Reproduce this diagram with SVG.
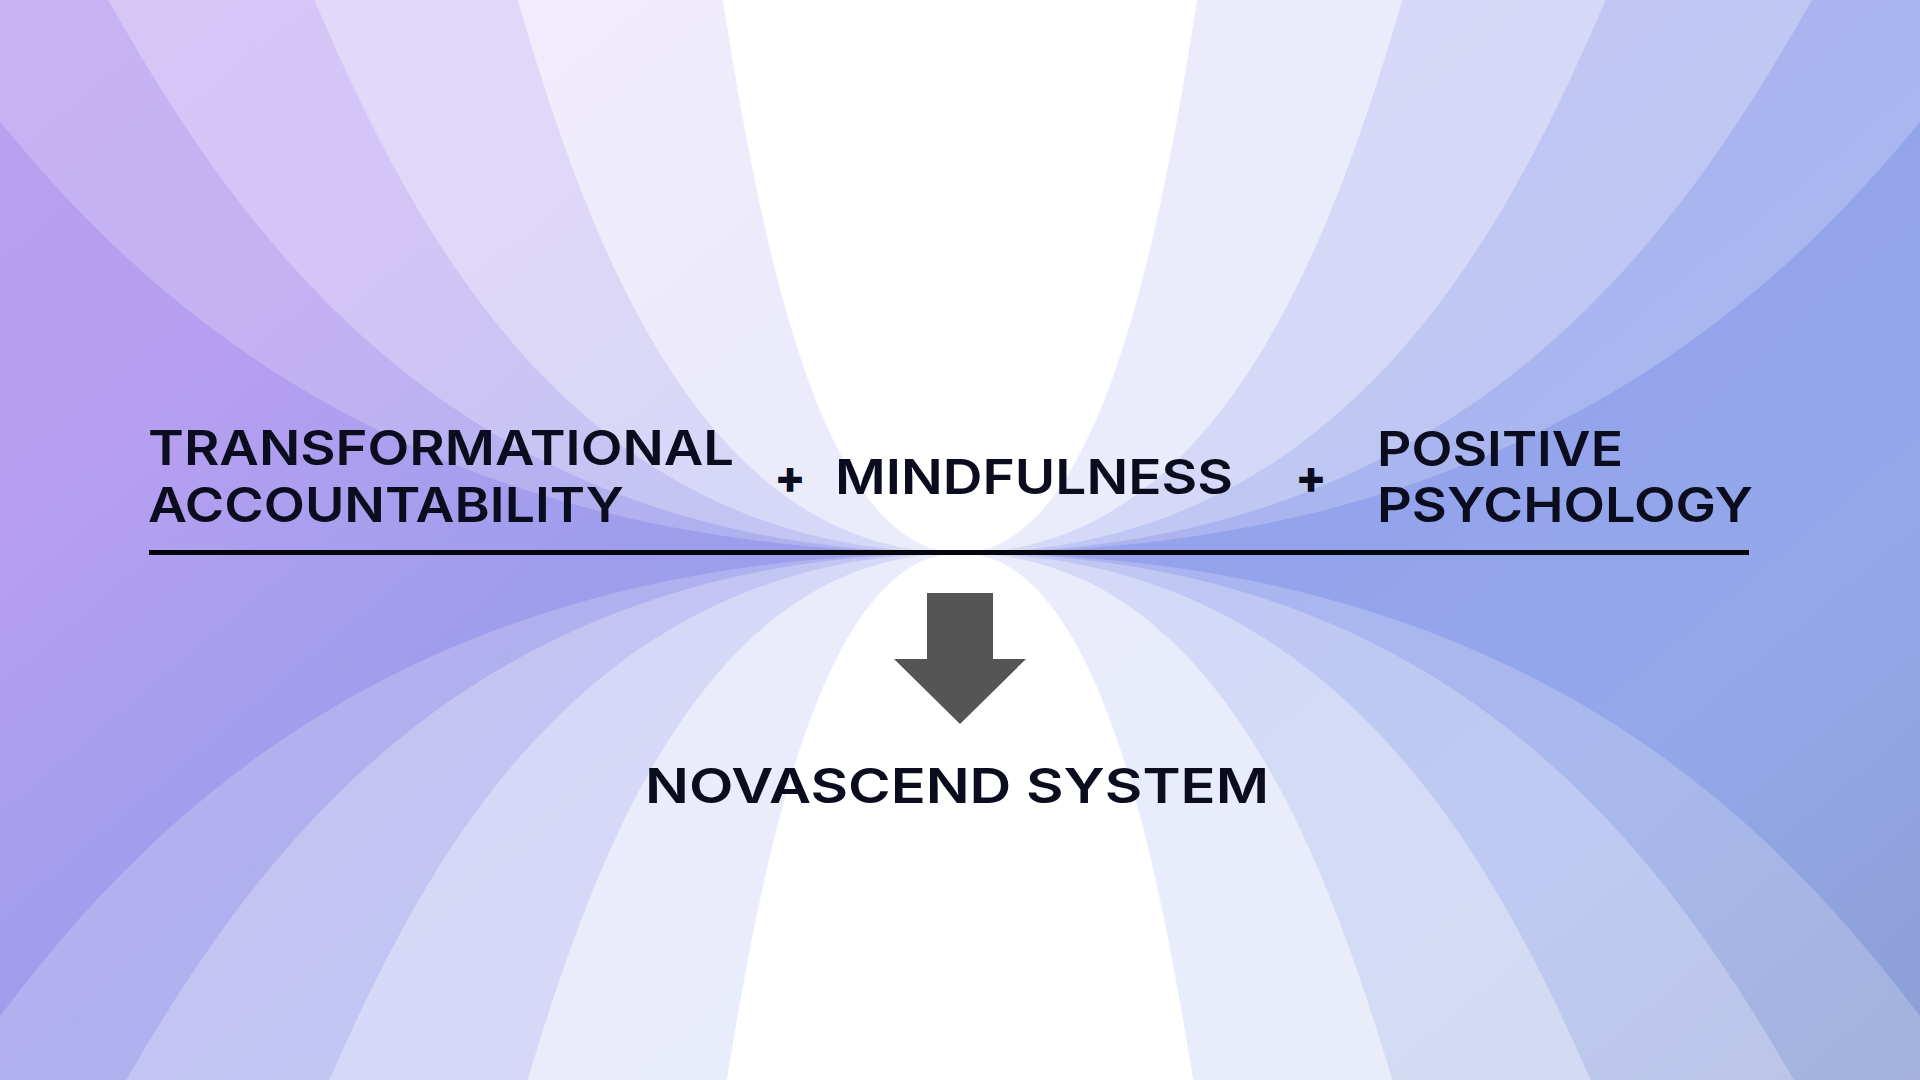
<svg xmlns="http://www.w3.org/2000/svg" width="1920" height="1080" viewBox="0 0 1920 1080">
  <style>
    .lbl { font-family: Inter, "Liberation Sans", "DejaVu Sans", sans-serif; font-weight: 600; font-size: 48px; fill: #0b0d1f; }
    .op { font-family: Inter, "Liberation Sans", "DejaVu Sans", sans-serif; font-weight: 800; font-size: 46px; fill: #0b0d1f; text-anchor: middle; }
    .lobe { fill: #ffffff; }
  </style>
  <defs>
    <linearGradient id="bg" gradientUnits="userSpaceOnUse" x1="0" y1="0" x2="1330" y2="1575">
      <stop offset="0" stop-color="#baa0f0"/>
      <stop offset="0.2" stop-color="#b69ff0"/>
      <stop offset="0.4" stop-color="#9e9dec"/>
      <stop offset="0.6" stop-color="#94a3ec"/>
      <stop offset="0.8" stop-color="#94a8e9"/>
      <stop offset="1" stop-color="#8c9ed4"/>
    </linearGradient>
    <path id="lobeTop" d="M0,0 C-0.6,0 -0.85,-0.6 -1,-1.01 L1,-1.01 C0.85,-0.6 0.6,0 0,0 Z"/>
    <path id="lobeBot" d="M0,0 C-0.6,0 -0.85,0.6 -1,1.01 L1,1.01 C0.85,0.6 0.6,0 0,0 Z"/>
  </defs>

  <g id="background">
    <rect x="0" y="0" width="1920" height="1080" fill="url(#bg)"/>
    <g class="lobe">
      <use href="#lobeTop" transform="translate(960,553) scale(1055,553)" fill-opacity="0.2"/>
      <use href="#lobeTop" transform="translate(960,553) scale(855,553)" fill-opacity="0.25"/>
      <use href="#lobeTop" transform="translate(960,553) scale(648,553)" fill-opacity="0.333"/>
      <use href="#lobeTop" transform="translate(960,553) scale(444,553)" fill-opacity="0.5"/>
      <use href="#lobeTop" transform="translate(960,553) scale(238,553)" fill-opacity="1"/>
      <use href="#lobeBot" transform="translate(960,553) scale(1010,527)" fill-opacity="0.2"/>
      <use href="#lobeBot" transform="translate(960,553) scale(837,527)" fill-opacity="0.25"/>
      <use href="#lobeBot" transform="translate(960,553) scale(633,527)" fill-opacity="0.333"/>
      <use href="#lobeBot" transform="translate(960,553) scale(434,527)" fill-opacity="0.5"/>
      <use href="#lobeBot" transform="translate(960,553) scale(234,527)" fill-opacity="1"/>
    </g>
  </g>

  <g id="node-transformational-accountability">
    <text class="lbl" x="148" y="465" textLength="586" lengthAdjust="spacingAndGlyphs">TRANSFORMATIONAL</text>
    <text class="lbl" x="148" y="522" textLength="476" lengthAdjust="spacingAndGlyphs">ACCOUNTABILITY</text>
  </g>

  <g id="node-mindfulness">
    <text class="lbl" x="835" y="494" textLength="398" lengthAdjust="spacingAndGlyphs">MINDFULNESS</text>
  </g>

  <g id="node-positive-psychology">
    <text class="lbl" x="1377" y="466" textLength="246" lengthAdjust="spacingAndGlyphs">POSITIVE</text>
    <text class="lbl" x="1377" y="522" textLength="376" lengthAdjust="spacingAndGlyphs">PSYCHOLOGY</text>
  </g>

  <g id="node-novascend-system">
    <text class="lbl" x="645" y="803" textLength="624" lengthAdjust="spacingAndGlyphs">NOVASCEND SYSTEM</text>
  </g>

  <g id="connectors">
    <text class="op" x="790" y="493">+</text>
    <text class="op" x="1311" y="493">+</text>
    <line x1="149" y1="552.5" x2="1749" y2="552.5" stroke="#05050c" stroke-width="5"/>
    <polygon points="927,593 993,593 993,659 1026,659 960,724 894,659 927,659" fill="#555555"/>
  </g>
</svg>
